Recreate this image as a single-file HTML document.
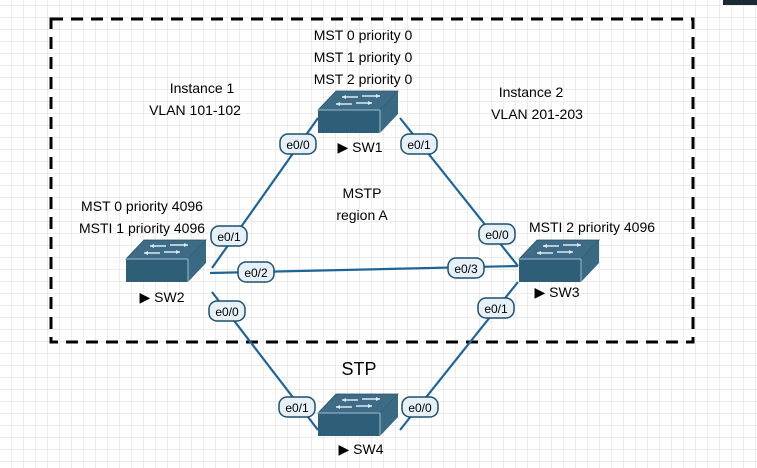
<!DOCTYPE html>
<html><head><style>
html,body{margin:0;padding:0;}
body{width:757px;height:468px;overflow:hidden;background-color:#fff;
background-image:linear-gradient(#ececec 1px,transparent 1px),linear-gradient(90deg,#ececec 1px,transparent 1px);
background-size:12px 12px;background-position:0 5px,11px 0;font-family:"Liberation Sans",sans-serif;}
svg{position:absolute;left:0;top:0}
</style></head><body>
<svg width="757" height="468" viewBox="0 0 757 468" font-family="Liberation Sans, sans-serif">
<defs>
<g id="sw">
<polygon points="0,19 18,0 80,0 62,19" fill="#3e6c86" stroke="#2a4f64" stroke-width="0.8"/>
<polygon points="0,19 62,19 62,42 0,42" fill="#2f5e79"/>
<polygon points="62,19 80,0 80,23 62,42" fill="#3a6984"/>
<line x1="0" y1="19" x2="62" y2="19" stroke="#9bbccd" stroke-width="1"/>
<line x1="62" y1="19" x2="62" y2="42" stroke="#9bbccd" stroke-width="1"/>
<g stroke="#dfeaf0" stroke-width="1.5" fill="none">
<line x1="24" y1="6" x2="40" y2="6"/><line x1="44" y1="5" x2="62" y2="5"/>
<line x1="18" y1="13" x2="34" y2="13"/><line x1="38" y1="12" x2="54" y2="12"/>
</g>
<g fill="#dfeaf0">
<polygon points="24,6 28,4 28,8"/><polygon points="62,5 58,3 58,7"/>
<polygon points="18,13 22,11 22,15"/><polygon points="54,12 50,10 50,14"/>
</g>
</g>
</defs>
<rect x="723" y="0" width="34" height="5" fill="#1e2a33"/>
<rect x="51" y="19" width="642" height="323" fill="none" stroke="#000" stroke-width="3" stroke-dasharray="12,8"/>
<g stroke="#1f6496" stroke-width="2.2">
<line x1="318" y1="118" x2="212" y2="268"/>
<line x1="400" y1="118" x2="518" y2="266"/>
<line x1="210" y1="273" x2="518" y2="266"/>
<line x1="212" y1="292" x2="318" y2="430"/>
<line x1="518" y1="282" x2="400" y2="430"/>
</g>
<use href="#sw" x="318" y="91"/>
<use href="#sw" x="126" y="240"/>
<use href="#sw" x="519" y="240"/>
<use href="#sw" x="318" y="394"/>
<g font-size="14" fill="#000" text-anchor="middle">
<text x="360" y="152">▶ SW1</text><text x="162" y="302">▶ SW2</text>
<text x="557" y="297">▶ SW3</text><text x="361" y="454">▶ SW4</text>
</g>
<g font-size="12" text-anchor="middle">
<g fill="#e6f0f7" stroke="#1f4f6e" stroke-width="1.5">
<rect x="280" y="134" width="36" height="20" rx="8"/>
<rect x="401" y="134" width="36" height="20" rx="8"/>
<rect x="211" y="226" width="36" height="20" rx="8"/>
<rect x="238" y="262" width="36" height="20" rx="8"/>
<rect x="448" y="258" width="36" height="20" rx="8"/>
<rect x="479" y="224" width="36" height="20" rx="8"/>
<rect x="209" y="301" width="36" height="20" rx="8"/>
<rect x="478" y="298" width="36" height="20" rx="8"/>
<rect x="279" y="397" width="36" height="20" rx="8"/>
<rect x="402" y="397" width="36" height="20" rx="8"/>
</g>
<text x="298" y="149">e0/0</text><text x="419" y="149">e0/1</text>
<text x="229" y="241">e0/1</text><text x="256" y="277">e0/2</text>
<text x="466" y="273">e0/3</text><text x="497" y="239">e0/0</text>
<text x="227" y="316">e0/0</text><text x="496" y="313">e0/1</text>
<text x="297" y="412">e0/1</text><text x="420" y="412">e0/0</text>
</g>
<g font-size="14" text-anchor="middle" fill="#000">
<text x="363" y="40">MST 0 priority 0</text>
<text x="363" y="62">MST 1 priority 0</text>
<text x="363" y="84">MST 2 priority 0</text>
<text x="202" y="93">Instance 1</text>
<text x="195" y="115">VLAN 101-102</text>
<text x="531" y="97">Instance 2</text>
<text x="537" y="119">VLAN 201-203</text>
<text x="362" y="198">MSTP</text>
<text x="362" y="220">region A</text>
<text x="142" y="211">MST 0 priority 4096</text>
<text x="142" y="233">MSTI 1 priority 4096</text>
<text x="592" y="232">MSTI 2 priority 4096</text>
<text x="359" y="375" font-size="18">STP</text>
</g>
</svg>
</body></html>
